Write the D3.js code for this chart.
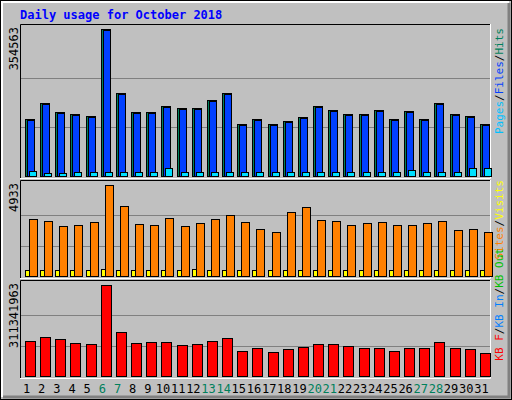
<!DOCTYPE html><html><head><script src="https://cdn.jsdelivr.net/npm/d3@7"></script>
<style>body{margin:0}svg{display:block}text{font-family:"DejaVu Sans Mono",monospace}</style></head><body><svg id="c" width="512" height="400"></svg>
<script>
const days=d3.range(1,32).map(String);
const weekend=["6","7","13","14","20","21","27","28"];
const hits=[137,176,154,149,145,354.563,200,154,154,169,164,164,183,200,125,137,125,133,142,169,159,149,149,159,137,157,137,176,149,145,125];
const files=[135,174,152,147,143,352,198,152,152,167,162,162,181,198,123,135,123,131,140,167,157,147,147,157,135,155,135,174,147,143,123];
const pages=[11,8,8,10,10,10,10,10,10,19,10,10,10,10,10,10,10,10,10,10,10,10,10,10,10,14,10,10,10,19,19];
const sites=[3110,3000,2730,2790,2950,4933,3810,2840,2790,3160,2730,2900,3110,3320,2950,2570,2410,3480,3750,3060,3000,2790,2900,2950,2790,2790,2900,3000,2470,2570,2360];
const visits=[300,330,330,330,330,380,330,330,330,330,330,370,330,330,330,330,330,330,330,330,330,330,330,330,330,330,330,330,330,330,330];
const kb=[120,134,128,113,110,311.341963,151,113,116,116,106,110,120,130,86,96,82,92,99,110,110,103,96,96,86,96,96,116,96,92,79];
const svg=d3.select("#c");
svg.append("rect").attr("x",0.5).attr("y",0.5).attr("width",511).attr("height",399).attr("fill","#c0c0c0").attr("stroke","#000");
svg.append("path").attr("d","M2,397V2H509").attr("stroke","#fff").attr("fill","none").attr("stroke-width",2);
svg.append("path").attr("d","M3,397H509V3").attr("stroke","#808080").attr("fill","none").attr("stroke-width",3);
svg.append("text").attr("x",20).attr("y",19).attr("fill","#0000ff").attr("font-weight","bold").attr("font-size",12).text("Daily usage for October 2018");
const x=d3.scaleBand().domain(days).range([20,490]).paddingInner(0).paddingOuter(0);
function panel(top,bot,max,label){
  svg.append("path").attr("d",`M20.5,${bot}V${top+.5}H490`).attr("stroke","#000").attr("fill","none");
  svg.append("path").attr("d",`M20,${bot+.5}H490.5V${top}`).attr("stroke","#fff").attr("fill","none");
  const y=d3.scaleLinear().domain([0,max]).range([bot-2,top+5]);
  [1/3,2/3].forEach(f=>svg.append("line").attr("x1",21).attr("x2",490).attr("y1",Math.round(y(max*(1-f)))+.5).attr("y2",Math.round(y(max*(1-f)))+.5).attr("stroke","#808080"));
  svg.append("text").attr("transform",`translate(18,${top+3}) rotate(-90)`).attr("text-anchor","end").attr("font-size",12).text(label);
  return y;
}
function bars(y,data,dx,w,color){
  svg.append("g").selectAll("rect").data(data).join("rect")
   .attr("x",(d,i)=>Math.round(x(days[i]))+dx+.5).attr("y",d=>Math.round(y(d))+.5)
   .attr("width",w).attr("height",d=>Math.round(y(0)-y(d))).attr("fill",color).attr("stroke","#000");
}
const y1=panel(24,178,354.563,"354563");
bars(y1,hits,5,9,"#00805c");bars(y1,files,7,7,"#0040ff");bars(y1,pages,9,7,"#00e0ff");
const y2=panel(180,278,4933,"4933");
bars(y2,visits,5,4,"#ffff00");bars(y2,sites,9,8,"#ff8000");
const y3=panel(280,378,311.341963,"311341963");
bars(y3,kb,5,10,"#ff0000");
svg.append("g").selectAll("text").data(days).join("text").attr("x",d=>x(d)+x.bandwidth()/2-1).attr("y",393).attr("text-anchor","middle").attr("font-size",12)
 .attr("fill",d=>weekend.includes(d)?"#00805c":"#000").text(d=>d);
function legend(yEnd,parts){
  const t=svg.append("text").attr("transform",`translate(503,${yEnd}) rotate(-90)`).attr("text-anchor","end").attr("font-size",11);
  parts.forEach(([s,c])=>t.append("tspan").attr("fill",c).text(s));
}
legend(28,[["Pages","#00c0ff"],["/","#000"],["Files","#0040ff"],["/","#000"],["Hits","#00805c"]]);
legend(180,[["Sites","#ff8000"],["/","#000"],["Visits","#ffff00"]]);
legend(248,[["KB F","#ff0000"],["/","#000"],["KB In","#0080ff"],["/","#000"],["KB Out","#00c000"]]);
</script></body></html>
